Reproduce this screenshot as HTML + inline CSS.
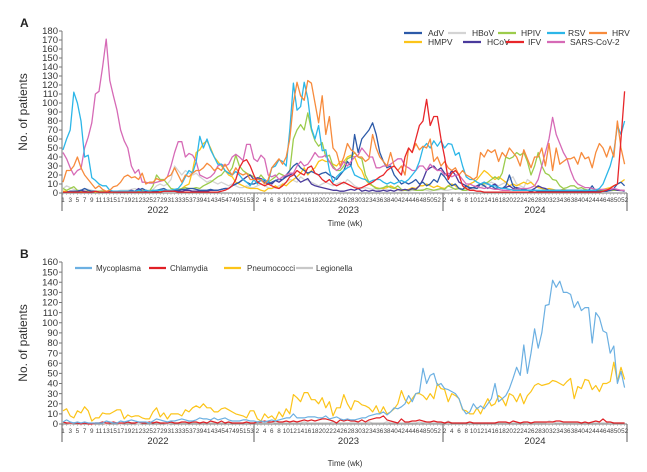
<!DOCTYPE html>
<html><head><meta charset="utf-8"><style>
html,body{margin:0;padding:0;background:#fff;}
svg{display:block;font-family:"Liberation Sans",Arial,sans-serif;}
</style></head><body>
<svg id="chart" width="647" height="472" viewBox="0 0 647 472" xmlns="http://www.w3.org/2000/svg"></svg>
<script>
const yearsA = ["2022","2023","2024"];
const ticksA = [0,10,20,30,40,50,60,70,80,90,100,110,120,130,140,150,160,170,180];
const ticksB = [0,10,20,30,40,50,60,70,80,90,100,110,120,130,140,150,160];
const adv = [1,1,2,2,2,3,5,3,2,2,1,1,1,2,1,1,1,1,1,2,2,3,5,3,2,2,3,4,5,3,2,3,3,4,4,5,5,4,3,3,3,4,3,3,4,5,5,8,10,12,15,12,10,
 10,12,14,12,10,12,14,15,15,20,25,30,33,28,25,22,24,22,20,22,23,20,18,15,20,25,35,30,65,45,60,65,70,78,65,45,35,28,30,20,15,10,12,10,12,15,10,12,8,10,15,12,
 22,18,12,8,10,5,4,8,6,6,5,10,8,5,8,5,6,5,8,20,8,5,3,5,3,2,3,2,2,2,2,2,2,2,2,2,2,2,2,3,2,3,8,2,2,2,2,3,5,10,12,8];
const hbov = [5,8,6,4,3,3,5,4,3,2,2,3,2,2,2,2,3,3,3,4,5,3,2,3,3,4,8,10,8,10,15,30,25,20,25,22,20,22,18,15,12,14,12,10,12,10,8,10,8,6,6,8,6,
 6,8,10,8,6,5,6,8,10,12,15,14,12,18,15,14,12,10,8,10,12,10,8,10,12,10,15,12,8,6,5,6,5,4,5,3,3,4,3,2,3,2,3,2,3,3,3,4,3,2,3,3,
 4,3,3,4,5,6,4,3,3,4,5,6,8,10,12,10,8,10,12,15,18,10,8,6,15,12,8,6,5,4,3,3,3,3,2,3,3,2,3,2,3,3,2,3,2,3,3,2,3,3,2,3];
const hpiv = [5,3,5,7,3,2,2,2,2,2,2,2,2,2,2,2,2,2,2,2,2,2,2,2,2,8,20,15,15,10,5,4,4,5,6,5,5,6,5,8,10,12,15,18,20,25,22,28,42,30,25,22,20,
 18,15,20,15,12,15,18,22,20,18,25,60,70,76,70,89,70,58,52,56,40,42,30,25,25,30,38,40,45,40,38,20,12,8,5,5,6,8,6,5,8,4,3,3,4,3,3,3,5,4,3,4,
 5,4,8,6,4,5,3,3,5,6,8,10,10,12,15,18,15,22,40,38,40,45,42,45,35,20,30,45,30,22,20,15,14,8,5,6,8,8,5,6,4,3,3,2,3,3,3,3,3,3,3,3];
const rsv = [48,60,70,112,100,80,40,42,17,14,10,8,8,3,2,2,2,2,2,2,2,3,2,3,2,3,3,3,3,3,3,4,5,10,18,25,22,35,63,50,60,48,40,32,32,25,22,20,24,20,15,12,8,
 15,10,15,15,12,28,30,37,35,30,70,122,92,96,123,105,72,60,75,47,48,25,12,18,22,25,28,30,20,18,16,15,12,14,15,15,12,10,12,10,12,14,12,15,20,25,35,50,55,50,58,52,
 58,50,55,54,42,45,30,18,15,15,12,10,12,10,8,8,6,5,5,4,3,3,3,3,3,3,3,3,3,3,3,3,3,3,3,3,3,3,3,3,3,3,3,3,5,10,20,30,45,75,65,80];
const hrv = [12,25,25,30,40,28,20,15,10,5,8,4,2,3,7,8,12,18,20,17,18,15,22,10,12,12,16,14,14,18,20,28,20,12,20,18,22,25,25,28,33,30,25,28,25,32,25,20,28,22,20,22,15,
 15,15,15,10,15,28,33,38,32,40,60,100,123,108,103,125,122,100,78,108,65,85,50,45,30,40,55,48,45,40,40,35,38,65,50,40,35,30,45,30,25,30,20,50,45,55,48,52,50,60,35,40,
 30,35,28,25,28,20,25,20,18,15,18,45,40,48,45,48,35,45,40,50,45,40,30,48,38,28,40,40,50,30,55,25,50,32,35,38,38,40,32,45,38,40,28,45,55,50,40,52,40,80,50,32];
const hmpv = [2,2,1,2,2,1,1,2,2,1,1,1,2,1,1,1,2,1,1,2,2,2,3,2,2,2,3,2,2,3,3,3,3,5,8,10,25,45,48,55,58,50,40,35,30,25,20,18,12,10,8,6,5,
 5,5,3,2,5,5,8,5,10,8,12,15,18,22,28,20,25,28,35,37,35,35,32,30,35,35,40,42,40,30,25,15,10,8,6,5,5,6,8,6,4,3,3,4,6,5,8,8,10,8,6,8,
 6,5,8,10,8,5,4,6,10,12,15,20,25,22,18,15,18,15,12,8,10,8,10,12,10,12,8,6,5,4,5,4,3,3,4,3,3,3,3,3,3,3,3,3,3,4,5,6,8,10,12,15];
const hcov = [1,1,2,2,2,3,2,1,1,2,1,1,1,1,2,2,2,2,2,3,2,5,2,2,2,2,2,3,2,2,2,2,2,2,3,3,2,2,2,2,2,3,3,3,4,5,5,8,10,12,15,18,20,
 15,17,16,14,12,10,14,12,15,18,20,22,16,12,14,16,10,8,7,6,5,4,3,3,2,2,3,4,3,5,2,3,2,3,2,2,3,2,3,2,4,3,4,3,5,4,8,15,25,28,30,25,
 28,22,18,25,20,12,10,8,5,6,8,10,12,10,8,10,6,5,6,8,5,6,5,4,3,3,5,8,6,5,3,3,3,3,3,3,3,3,3,2,2,2,2,2,2,2,2,3,4,3,3,2];
const ifv = [1,1,1,1,1,1,1,1,1,2,1,1,1,1,1,1,1,1,1,1,1,1,1,1,1,1,1,1,2,2,2,2,1,1,1,1,1,1,1,1,1,1,1,1,2,3,5,8,15,28,35,37,30,
 20,12,10,8,10,8,6,5,8,12,18,20,25,22,20,28,30,22,20,15,12,15,10,8,10,12,10,8,6,5,6,8,10,12,15,18,20,25,28,30,25,20,40,50,45,60,75,80,104,75,85,85,
 60,40,15,22,25,20,8,5,3,3,2,2,1,1,1,1,1,1,1,1,1,1,1,1,1,1,1,1,1,1,1,1,1,1,1,1,1,1,1,1,1,1,1,1,1,2,3,5,8,10,60,113];
const sars = [45,38,28,20,25,27,50,62,78,110,113,140,171,125,108,92,70,58,50,30,22,26,12,12,11,11,12,13,14,18,30,45,57,57,40,44,42,35,20,18,16,18,22,30,32,30,32,40,43,40,36,54,54,
 38,35,42,38,20,18,20,15,18,20,22,22,30,35,30,32,38,45,40,40,42,35,28,25,28,35,30,35,40,42,50,45,40,40,28,28,30,30,32,35,38,38,30,28,25,25,30,30,25,32,28,25,
 25,20,22,18,20,20,15,10,10,8,7,6,5,6,5,4,4,3,3,3,4,4,5,5,5,6,8,15,30,45,60,84,65,55,45,38,25,15,10,8,6,6,5,4,4,4,4,4,5,4,3,3];
const myco = [2,4,2,1,2,1,2,1,1,1,1,1,3,2,1,1,3,2,3,4,3,2,2,2,1,3,5,4,3,2,3,3,4,5,4,3,3,4,6,5,5,4,6,4,5,6,4,3,3,3,4,4,3,
 3,2,3,2,3,4,3,4,5,6,6,10,6,6,6,7,7,7,6,6,8,5,6,7,5,4,5,4,4,5,6,6,8,9,10,10,12,9,12,16,15,17,20,28,22,30,31,55,40,48,50,38,
 40,35,34,32,30,25,15,10,12,20,15,18,15,20,25,40,22,25,28,35,45,56,48,78,50,70,94,75,90,117,118,142,135,141,130,130,128,115,121,112,115,115,80,110,105,92,90,70,77,40,52,36];
const chlam = [2,1,1,1,1,0,1,0,0,1,1,2,1,1,2,1,1,1,2,1,1,2,1,1,2,1,2,1,1,1,2,1,1,2,2,1,2,2,1,2,1,3,2,1,3,1,2,1,1,1,1,2,1,
 1,2,2,3,2,2,3,2,2,3,2,3,2,3,4,3,4,3,4,5,5,4,3,1,4,3,4,3,3,2,4,2,4,5,6,6,8,4,3,2,1,5,2,2,3,3,4,3,2,2,3,2,
 2,1,2,1,1,1,1,1,2,1,1,1,1,1,1,1,2,2,2,1,3,2,1,2,2,1,2,2,2,2,2,2,3,3,2,2,2,2,2,1,2,1,2,3,2,5,2,2,1,1,1,1];
const pneumo = [13,15,8,6,13,11,17,13,3,6,6,11,10,10,12,14,14,5,9,7,8,8,6,5,5,12,16,7,11,5,10,10,10,8,14,12,16,18,16,20,16,16,12,12,15,16,14,12,10,9,8,6,13,
 13,5,3,10,6,8,4,12,7,15,10,29,26,22,31,31,24,24,20,26,16,22,8,16,16,29,20,14,23,22,19,18,16,12,18,10,17,10,12,15,20,33,24,20,25,30,30,28,24,30,25,40,
 35,34,22,30,28,25,14,13,10,10,16,10,18,25,18,20,28,25,18,30,28,22,30,20,28,32,38,40,38,39,40,43,42,40,38,42,45,25,37,35,44,43,34,38,32,40,40,42,61,42,56,44];
const legio = [1,1,0,1,1,0,1,1,0,1,1,1,0,1,1,1,0,1,1,1,1,0,1,1,1,2,1,1,1,0,1,1,1,1,1,2,1,1,1,1,1,1,1,1,1,1,2,1,1,1,1,1,1,
 1,1,1,1,1,2,1,1,1,1,1,1,1,1,2,1,1,1,1,1,1,1,2,1,1,1,1,1,1,1,1,1,2,1,1,1,1,2,1,1,1,1,1,1,1,1,2,1,2,1,1,1,
 1,1,3,1,1,1,1,1,2,1,1,1,1,1,1,1,1,1,1,1,1,1,1,1,2,1,1,1,1,1,3,2,1,1,1,1,1,1,1,1,1,1,1,1,1,1,1,2,1,1,1,1];

const seriesA = [
  {name:"HBoV",data:hbov,color:"#d4d4d4",key:"hbov"},
  {name:"HMPV",data:hmpv,color:"#fcc419",key:"hmpv"},
  {name:"HPIV",data:hpiv,color:"#9ccc4c",key:"hpiv"},
  {name:"HCoV",data:hcov,color:"#4a3a9c",key:"hcov"},
  {name:"AdV",data:adv,color:"#2c5aa8",key:"adv"},
  {name:"SARS-CoV-2",data:sars,color:"#d66ab6",key:"sars-cov-2"},
  {name:"RSV",data:rsv,color:"#2cb6e8",key:"rsv"},
  {name:"HRV",data:hrv,color:"#f78b3c",key:"hrv"},
  {name:"IFV",data:ifv,color:"#e8262a",key:"ifv"}
];
const seriesB = [
  {name:"Legionella",data:legio,color:"#c8c8c8",key:"legionella"},
  {name:"Chlamydia",data:chlam,color:"#e02026",key:"chlamydia"},
  {name:"Pneumococci",data:pneumo,color:"#fcc419",key:"pneumococci"},
  {name:"Mycoplasma",data:myco,color:"#6cb0e2",key:"mycoplasma"}
];

const NS="http://www.w3.org/2000/svg";
const svg=document.getElementById('chart');
function mk(tag,attrs,parent,text){const e=document.createElementNS(NS,tag);for(const k in attrs)e.setAttribute(k,attrs[k]);if(text!==undefined)e.textContent=text;(parent||svg).appendChild(e);return e;}
const X0=62, X1=627, STEP=3.6;
function xw(i){return 63+i*STEP;}
const yearBounds=[62,254,443,627];

function panel(opt){
  const g=mk('g',{});
  
  
  const y=v=>opt.y0-(v/opt.max)*(opt.y0-opt.yTop);
  const lab=mk('text',{x:opt.labX,y:opt.labY,'font-size':12,'font-weight':'bold',fill:'#222'},g,opt.letter);
  
  
  const ya=mk('line',{x1:X0,x2:X0,y1:opt.yTop,y2:opt.y0,stroke:'#777','stroke-width':1},g);
  
  
  opt.ticks.forEach(t=>{
    mk('line',{x1:X0-3,x2:X0,y1:y(t),y2:y(t),stroke:'#777'},g);
    const tl=mk('text',{x:X0-4,y:y(t)+3.2,'font-size':9.5,'text-anchor':'end',fill:'#333'},g,String(t));
    
    
  });
  const yt=mk('text',{x:0,y:0,'font-size':12,'text-anchor':'middle',fill:'#333',transform:`translate(27,${(opt.y0+opt.yTop)/2}) rotate(-90)`},g,'No. of patients');
  
  
  const xa=mk('line',{x1:X0,x2:X1,y1:opt.y0,y2:opt.y0,stroke:'#777'},g);
  
  
  yearBounds.forEach(b=>mk('line',{x1:b,x2:b,y1:opt.y0,y2:opt.y0+18,stroke:'#777','stroke-width':1.2},g));
  for(let i=0;i<157;i++){
    let wk, yr;
    if(i<53){wk=i+1;yr=0;} else if(i<105){wk=i-52;yr=1;} else {wk=i-104;yr=2;}
    const show = yr===0 ? (wk%2===1) : (wk%2===0);
    mk('line',{x1:xw(i),x2:xw(i),y1:opt.y0,y2:opt.y0+2,stroke:'#999','stroke-width':0.5},g);
    if(show){
      const wl=mk('text',{x:xw(i),y:opt.y0+9,'font-size':6.3,'text-anchor':'middle',fill:'#444'},g,String(wk));
      
      
    }
  }
  yearsA.forEach((yr,k)=>{
    const t=mk('text',{x:(yearBounds[k]+yearBounds[k+1])/2,y:opt.y0+20,'font-size':9.5,'text-anchor':'middle',fill:'#333'},g,yr);
    
    
  });
  const xt=mk('text',{x:345,y:opt.y0+opt.timeOff,'font-size':8,'text-anchor':'middle',fill:'#333'},g,'Time (wk)');
  
  
  opt.series.forEach(s=>{
    const pts=s.data.map((v,i)=>xw(i).toFixed(1)+','+y(v).toFixed(1)).join(' ');
    const pl=mk('polyline',{points:pts,fill:'none',stroke:s.color,'stroke-width':opt.sw,'stroke-linejoin':'round'},g);
    
    
  });
  opt.legend.forEach(L=>{
    const s=opt.series.find(q=>q.name===L.name);
    const lg=mk('g',{},g);
    
    
    mk('line',{x1:L.x,x2:L.x+opt.ll,y1:L.y,y2:L.y,stroke:s.color,'stroke-width':2.2},lg);
    mk('text',{x:L.tx,y:L.y+3,'font-size':opt.lfs,fill:'#333'},lg,s.name);
  });
}

panel({prefix:'panel-a',letter:'A',labX:20,labY:27,y0:193,yTop:31,max:180,ticks:ticksA,series:seriesA,sw:1.3,lfs:8.5,ll:18,timeOff:33,
 legend:[
  {name:'AdV',x:404,y:33,tx:428},{name:'HBoV',x:448,y:33,tx:472},{name:'HPIV',x:498,y:33,tx:521},{name:'RSV',x:547,y:33,tx:568},{name:'HRV',x:589,y:33,tx:612},
  {name:'HMPV',x:404,y:42,tx:428},{name:'HCoV',x:463,y:42,tx:487},{name:'IFV',x:506,y:42,tx:528},{name:'SARS-CoV-2',x:547,y:42,tx:570}
 ]});
panel({prefix:'panel-b',letter:'B',labX:20,labY:258,y0:424,yTop:262,max:160,ticks:ticksB,series:seriesB,sw:1.2,lfs:8,ll:17,timeOff:42,
 legend:[
  {name:'Mycoplasma',x:75,y:268,tx:96},{name:'Chlamydia',x:149,y:268,tx:170},{name:'Pneumococci',x:224,y:268,tx:247},{name:'Legionella',x:296,y:268,tx:316}
 ]});
</script>
</body></html>
